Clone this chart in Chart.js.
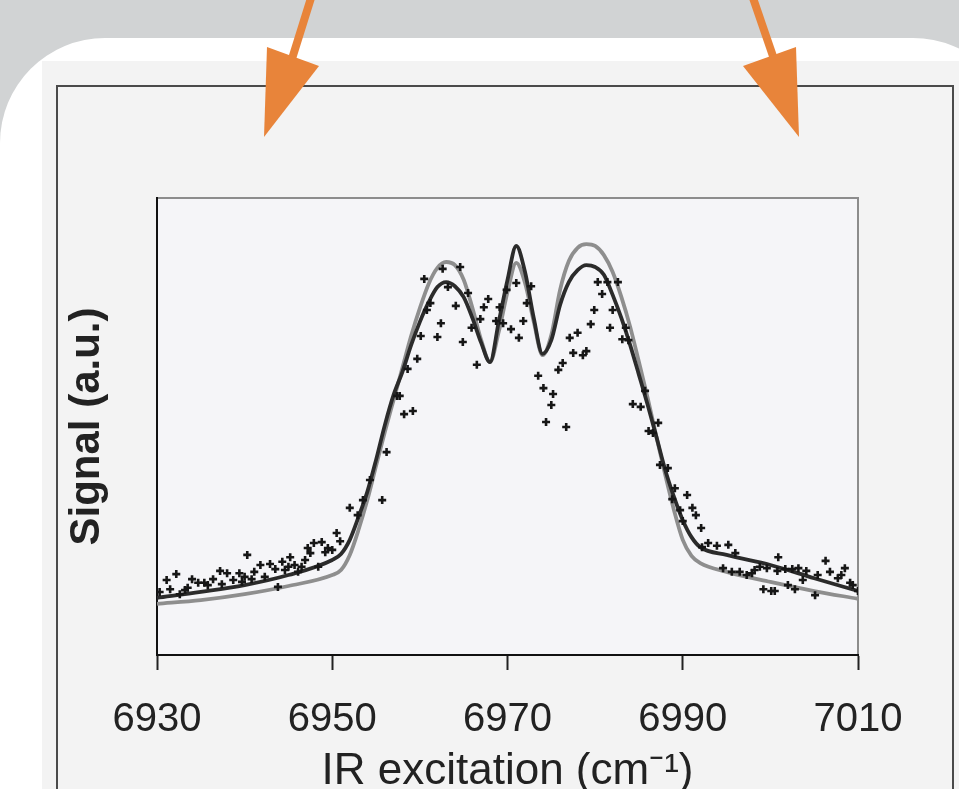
<!DOCTYPE html>
<html>
<head>
<meta charset="utf-8">
<script src="https://cdn.jsdelivr.net/npm/chart.js@4.4.1/dist/chart.umd.min.js"></script>
<style>
  html, body { margin: 0; padding: 0; background: #d1d3d4; }
  canvas { display: block; }
</style>
</head>
<body>
<canvas id="irChart" width="959" height="789"></canvas>
<script>
// x ticks (cm-1)
const xTicks = [6930, 6950, 6970, 6990, 7010];

// fitted curves, shared x grid
const fitX = [6930, 6935, 6940, 6945, 6950, 6951, 6952, 6953, 6954, 6955, 6956, 6957, 6958, 6959,
  6960, 6961, 6962, 6963, 6964, 6965, 6966, 6967, 6968, 6969, 6970, 6971, 6972, 6973, 6974,
  6975, 6976, 6977, 6978, 6979, 6980, 6981, 6982, 6983, 6984, 6985, 6986, 6987, 6988, 6989,
  6990, 6991, 6992, 6995, 7000, 7005, 7010];
const darkFit = [12.5, 13.8, 15.3, 17.5, 20.8, 22.1, 25.2, 30.2, 35.7, 42.7, 50.3, 56.9, 61.9, 67.8,
  72.9, 77.2, 80.5, 81.6, 80.7, 78.3, 73.7, 68.3, 64.1, 72.9, 82.1, 89.5, 83.8, 73.7, 65.9,
  68.9, 76.6, 81.6, 84.2, 85.3, 84.9, 83.2, 78.8, 73.7, 67.8, 61.3, 54.7, 47.7, 40.5, 34.6,
  29.5, 25.8, 23.6, 21.9, 19.7, 16.8, 14.0];
const grayFit = [11.2, 12.0, 13.3, 15.1, 17.5, 18.6, 21.9, 27.4, 33.9, 41.4, 48.8, 55.8, 62.8, 69.8,
  75.9, 81.2, 84.7, 86.0, 85.3, 82.1, 75.9, 68.9, 64.1, 70.7, 79.4, 85.8, 81.4, 72.9, 65.6,
  70.0, 79.9, 86.2, 89.1, 89.9, 89.5, 87.5, 83.8, 78.3, 71.8, 64.1, 56.2, 47.7, 39.4, 31.7,
  25.2, 21.7, 20.1, 18.2, 16.0, 14.0, 12.3];

// measured points
const scanX = [6930.3, 6931.1, 6931.5, 6932.2, 6932.6, 6933.2, 6933.5, 6934.0, 6934.7, 6935.4,
  6935.8, 6936.4, 6937.2, 6937.4, 6938.0, 6938.7, 6939.4, 6939.7, 6940.0, 6940.3,
  6940.8, 6941.1, 6941.8, 6942.3, 6942.9, 6943.5, 6943.8, 6944.3, 6944.6, 6945.0,
  6945.2, 6945.7, 6946.1, 6946.5, 6946.9, 6947.2, 6947.5, 6947.9, 6948.4, 6948.8,
  6949.2, 6949.5, 6950.0, 6950.5, 6950.9, 6952.0, 6952.9, 6953.5, 6954.3, 6955.7,
  6956.2, 6957.4, 6957.7, 6958.2, 6958.6, 6959.2, 6959.7, 6960.1, 6960.5, 6960.8,
  6961.2, 6962.0, 6962.4, 6962.6, 6963.2, 6964.1, 6964.6, 6964.9, 6965.5, 6965.9,
  6966.5, 6966.9, 6967.3, 6967.8, 6968.7, 6969.1, 6969.5, 6969.9, 6970.4, 6971.0,
  6971.3, 6971.8, 6972.2, 6972.7, 6973.5, 6974.1, 6974.4, 6975.0, 6975.2, 6975.8,
  6976.3, 6976.7, 6977.1, 6977.5, 6978.0, 6978.6, 6979.0, 6979.5, 6979.9, 6980.3,
  6980.8, 6981.4, 6981.7, 6982.0, 6982.6, 6983.1, 6983.5, 6983.8, 6984.3, 6985.2,
  6985.7, 6986.1, 6986.6, 6987.2, 6987.4, 6988.3, 6989.1, 6989.7, 6988.8, 6990.0,
  6990.5, 6991.1, 6991.5, 6992.1, 6992.2, 6992.9, 6993.9, 6994.6, 6995.2, 6995.6,
  6996.0, 6996.5, 6997.3, 6997.9, 6998.2, 6998.8, 6999.2, 6999.6, 7000.1, 7000.5,
  7000.8, 7000.9, 7001.7, 7002.0, 7002.5, 7002.8, 7003.2, 7003.7, 7004.1, 7005.1,
  7005.4, 7006.3, 7006.8, 7007.7, 7008.1, 7008.5, 7009.1, 7009.4, 7010.0];
const scanY = [13.8, 16.4, 14.4, 17.7, 13.3, 14.2, 14.7, 16.6, 15.8, 15.8,
  15.3, 16.6, 18.4, 15.5, 17.9, 16.4, 17.9, 16.0, 17.1, 21.9,
  16.6, 18.2, 19.7, 17.1, 19.9, 18.8, 14.9, 20.4, 18.6, 19.3,
  21.4, 19.7, 18.2, 19.3, 20.8, 23.4, 22.3, 24.5, 19.3, 24.7,
  22.5, 23.4, 23.0, 26.7, 24.9, 32.2, 30.6, 33.9, 38.3, 33.9,
  44.4, 56.7, 56.7, 52.7, 62.6, 53.4, 64.8, 69.8, 82.3, 75.5,
  77.0, 69.6, 72.6, 84.5, 80.5, 76.4, 84.9, 68.5, 79.2, 71.6,
  63.5, 73.5, 76.1, 77.9, 73.1, 76.1, 72.6, 79.9, 71.3, 81.4,
  69.4, 73.1, 77.0, 80.7, 61.1, 58.4, 51.0, 54.7, 57.1, 62.4,
  63.9, 49.9, 69.4, 66.1, 70.5, 65.6, 66.5, 72.4, 75.5, 81.6,
  79.0, 81.6, 71.6, 75.5, 81.6, 69.1, 71.6, 68.9, 54.9, 54.3,
  57.8, 49.0, 48.6, 50.8, 41.6, 40.9, 36.5, 31.7, 34.1, 29.3,
  35.0, 32.2, 30.6, 27.8, 23.6, 24.5, 23.9, 19.0, 24.1, 18.2,
  22.3, 18.2, 17.5, 17.9, 18.6, 19.3, 14.4, 19.0, 14.0, 14.0,
  18.4, 21.4, 18.8, 15.3, 18.8, 14.4, 19.0, 16.4, 18.4, 13.1,
  17.5, 20.6, 18.2, 16.8, 17.5, 19.0, 15.8, 15.3, 14.0];

const pairs = (xs, ys) => xs.map((x, i) => ({ x: x, y: ys[i] }));

// slide backdrop, panel and frames
const backdrop = {
  id: "backdrop",
  beforeDraw: (chart) => {
    const ctx = chart.ctx;
    const a = chart.chartArea;
    ctx.save();
    ctx.fillStyle = "#d1d3d4";
    ctx.fillRect(0, 0, chart.width, chart.height);

    // white rounded panel
    ctx.fillStyle = "#ffffff";
    ctx.beginPath();
    ctx.moveTo(0, chart.height);
    ctx.lineTo(0, 143);
    ctx.arcTo(0, 38, 105, 38, 105);
    ctx.lineTo(913, 38);
    ctx.arcTo(1018, 38, 1018, 143, 105);
    ctx.lineTo(1018, chart.height);
    ctx.closePath();
    ctx.fill();

    // grey picture area + outer frame
    ctx.fillStyle = "#f3f3f3";
    ctx.fillRect(42, 61, chart.width - 42, chart.height - 61);
    ctx.strokeStyle = "#4a4a4a";
    ctx.lineWidth = 2;
    ctx.strokeRect(57, 86, 896, 760);

    // plot area
    ctx.fillStyle = "#f5f5f8";
    ctx.fillRect(a.left, a.top, a.right - a.left, a.bottom - a.top);
    ctx.strokeStyle = "#8c8c8c";
    ctx.strokeRect(a.left, a.top, a.right - a.left, a.bottom - a.top);
    ctx.restore();
  },
  afterDraw: (chart) => {
    const ctx = chart.ctx;
    ctx.save();
    ctx.fillStyle = "#e8843a";
    ctx.strokeStyle = "#e8843a";
    ctx.lineWidth = 8;
    // left arrow
    ctx.beginPath();
    ctx.moveTo(311, -2);
    ctx.lineTo(291, 62);
    ctx.stroke();
    ctx.beginPath();
    ctx.moveTo(267, 47);
    ctx.lineTo(319, 66);
    ctx.lineTo(264, 137);
    ctx.closePath();
    ctx.fill();
    // right arrow
    ctx.beginPath();
    ctx.moveTo(753, -2);
    ctx.lineTo(775, 62);
    ctx.stroke();
    ctx.beginPath();
    ctx.moveTo(743, 66);
    ctx.lineTo(796, 47);
    ctx.lineTo(799, 137);
    ctx.closePath();
    ctx.fill();
    ctx.restore();
  },
};

const ctx = document.getElementById("irChart").getContext("2d");

new Chart(ctx, {
  type: "line",
  data: {
    datasets: [
      {
        label: "data",
        data: pairs(scanX, scanY),
        showLine: false,
        pointStyle: "cross",
        pointRadius: 4,
        pointBorderWidth: 2.6,
        pointBorderColor: "#161616",
        pointBackgroundColor: "#161616",
      },
      {
        label: "fit 1",
        data: pairs(fitX, darkFit),
        borderColor: "#2b2b2b",
        borderWidth: 3.8,
        pointRadius: 0,
        cubicInterpolationMode: "monotone",
      },
      {
        label: "fit 2",
        data: pairs(fitX, grayFit),
        borderColor: "#8e8e8e",
        borderWidth: 3.8,
        pointRadius: 0,
        cubicInterpolationMode: "monotone",
      },
    ],
  },
  options: {
    responsive: false,
    animation: false,
    devicePixelRatio: 1,
    layout: { padding: { left: 0, top: 198, right: 101, bottom: 0 } },
    plugins: {
      legend: { display: false },
      tooltip: { enabled: false },
    },
    scales: {
      x: {
        type: "linear",
        min: 6930,
        max: 7010,
        afterBuildTicks: (scale) => {
          scale.ticks = xTicks.map((v) => ({ value: v }));
        },
        afterFit: (scale) => {
          scale.height = 134;
        },
        grid: {
          drawOnChartArea: false,
          drawTicks: true,
          tickLength: 15,
          tickColor: "#222",
          tickWidth: 2,
        },
        border: { display: true, color: "#111", width: 2 },
        ticks: {
          padding: 30,
          color: "#222",
          font: { family: "'Liberation Sans', Arial, sans-serif", size: 40, lineHeight: "40px" },
          callback: (v) => String(v),
        },
        title: {
          display: true,
          text: "IR excitation (cm⁻¹)",
          color: "#222",
          padding: { top: 0, bottom: 0 },
          font: { family: "'Liberation Sans', Arial, sans-serif", size: 44, lineHeight: "34px" },
        },
      },
      y: {
        min: 0,
        max: 100,
        afterFit: (scale) => {
          scale.width = 157;
        },
        grid: { display: false },
        ticks: { display: false },
        border: { display: true, color: "#111", width: 2 },
        title: {
          display: true,
          text: "Signal (a.u.)",
          color: "#222",
          padding: { top: 67, bottom: 0 },
          font: { family: "'Liberation Sans', Arial, sans-serif", size: 42, weight: "bold", lineHeight: "40px" },
        },
      },
    },
  },
  plugins: [backdrop],
});
</script>
</body>
</html>
